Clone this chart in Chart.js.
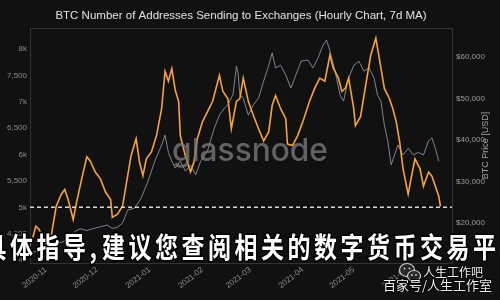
<!DOCTYPE html>
<html><head><meta charset="utf-8">
<script src="https://cdn.jsdelivr.net/npm/chart.js@4.4.1/dist/chart.umd.min.js"></script>
<style>html,body{margin:0;padding:0;background:#111;}#wrap{width:500px;height:300px;position:relative}</style>
</head><body><div id="wrap"><canvas id="c" width="500" height="300"></canvas></div>
<script>
const titleText = 'BTC Number of Addresses Sending to Exchanges (Hourly Chart, 7d MA)';
const rightAxisTitle = 'BTC Price [USD]';
const xRange = ['2020-10-22T14:00', '2021-06-27T19:00'];
const monthTicks = ['2020-11-01','2020-12-01','2021-01-01','2021-02-01','2021-03-01','2021-04-01','2021-05-01','2021-06-01'];
const monthLabels = ['2020-11','2020-12','2021-01','2021-02','2021-03','2021-04','2021-05','2021-06'];
const leftTicks = [4000,4500,5000,5500,6000,6500,7000,7500,8000];
const leftRange = [3945, 8400];
const rightTicks = [20000,30000,40000,50000,60000];
const rightRange = [10360, 67000];
const thresholdValue = 5000;

const addrDates = ['2020-10-22','2020-10-24','2020-10-26','2020-10-28','2020-10-30','2020-11-02','2020-11-04','2020-11-07','2020-11-10','2020-11-12','2020-11-14','2020-11-17','2020-11-19','2020-11-22','2020-11-25','2020-11-27','2020-11-30','2020-12-03','2020-12-06','2020-12-09','2020-12-10','2020-12-13','2020-12-16','2020-12-19','2020-12-21','2020-12-24','2020-12-26','2020-12-28','2020-12-30','2021-01-02','2021-01-05','2021-01-08','2021-01-10','2021-01-12','2021-01-14','2021-01-16','2021-01-18','2021-01-19','2021-01-22','2021-01-25','2021-01-27','2021-01-29','2021-02-01','2021-02-04','2021-02-07','2021-02-11','2021-02-13','2021-02-16','2021-02-18','2021-02-21','2021-02-23','2021-02-25','2021-02-28','2021-03-03','2021-03-06','2021-03-09','2021-03-12','2021-03-14','2021-03-16','2021-03-19','2021-03-22','2021-03-23','2021-03-26','2021-03-29','2021-04-01','2021-04-05','2021-04-08','2021-04-11','2021-04-14','2021-04-17','2021-04-19','2021-04-22','2021-04-24','2021-04-26','2021-04-28','2021-05-01','2021-05-02','2021-05-05','2021-05-08','2021-05-11','2021-05-14','2021-05-15','2021-05-17','2021-05-19','2021-05-22','2021-05-24','2021-05-26','2021-05-28','2021-05-30','2021-06-02','2021-06-04','2021-06-06','2021-06-09','2021-06-11','2021-06-14','2021-06-16','2021-06-18','2021-06-20','2021-06-21'];
const addrValues = [4250,4400,4640,4580,4390,4250,4450,5020,5250,5340,5150,4770,5100,5540,5960,5880,5670,5540,5290,5150,4810,4870,5020,5590,5975,6300,5860,5600,5920,6050,6360,6870,7580,7390,7630,7220,7010,6360,5975,5670,5860,6300,6620,6815,7010,7500,7200,7060,6490,7010,7060,7450,7010,6740,6490,6260,6430,6930,7120,6870,6680,6200,6170,6360,6620,7010,7255,7450,7390,7885,7640,7450,7200,7255,7450,6870,6550,6720,7310,7885,8210,8020,7640,7255,7060,6870,6620,6240,5730,5250,5590,5920,5730,5400,5670,5590,5400,5210,5020];

const priceDates = ['2020-10-22','2020-10-26','2020-10-30','2020-11-03','2020-11-06','2020-11-10','2020-11-14','2020-11-18','2020-11-21','2020-11-25','2020-11-30','2020-12-03','2020-12-07','2020-12-10','2020-12-13','2020-12-16','2020-12-19','2020-12-23','2020-12-27','2020-12-31','2021-01-04','2021-01-08','2021-01-10','2021-01-12','2021-01-14','2021-01-16','2021-01-19','2021-01-22','2021-01-25','2021-01-28','2021-01-31','2021-02-04','2021-02-08','2021-02-11','2021-02-14','2021-02-16','2021-02-19','2021-02-21','2021-02-22','2021-02-23','2021-02-25','2021-02-28','2021-03-03','2021-03-06','2021-03-09','2021-03-12','2021-03-14','2021-03-16','2021-03-19','2021-03-22','2021-03-25','2021-03-28','2021-03-31','2021-04-04','2021-04-07','2021-04-10','2021-04-13','2021-04-15','2021-04-17','2021-04-20','2021-04-23','2021-04-25','2021-04-28','2021-05-01','2021-05-04','2021-05-07','2021-05-10','2021-05-13','2021-05-15','2021-05-17','2021-05-19','2021-05-21','2021-05-23','2021-05-25','2021-05-27','2021-05-30','2021-06-02','2021-06-05','2021-06-08','2021-06-11','2021-06-14','2021-06-16','2021-06-18','2021-06-20'];
const priceValues = [12900,13100,13500,14000,15500,15300,16000,18000,18600,18200,18800,19100,19500,18700,18950,20000,23100,23600,26000,30100,34900,38800,41200,37000,34900,33250,34900,32500,34000,31600,34900,37400,42900,46000,47700,48500,51000,57800,56000,51000,50100,46000,48500,50100,54200,58000,61000,57400,58000,55700,52500,55700,59000,59300,57400,59800,62900,64100,61500,56600,50800,49400,54900,58000,59000,56600,57400,54900,50800,49400,43600,39800,34000,36400,38800,36400,38000,36400,37000,36400,39800,40500,38000,34900];

const watermarkText = 'glassnode';
const overlayText = '具体指导,建议您查阅相关的数字货币交易平台';
const stampTop = '人生工作吧';
const stampBottom = '百家号/人生工作室';

const DAY = 86400000;
const toDay = s => Date.parse((s.length === 10 ? s + 'T00:00' : s) + ':00Z') / DAY;
const xMin = toDay(xRange[0]), xMax = toDay(xRange[1]);
const AX_FONT = '"Liberation Sans", Arial, sans-serif';

const deco = {
  id: 'deco',
  beforeDraw(chart) {
    const {ctx, width, height} = chart;
    ctx.save(); ctx.fillStyle = '#111111'; ctx.fillRect(0, 0, width, height); ctx.restore();
  },
  afterDatasetsDraw(chart) {
    const {ctx, chartArea: a} = chart;
    ctx.save();
    ctx.font = '500 40px Inter, sans-serif';
    const w = ctx.measureText(watermarkText).width;
    const size = 40 * 156 / w;
    ctx.font = `500 ${size}px Inter, sans-serif`;
    ctx.fillStyle = 'rgba(120,120,120,0.8)';
    ctx.textAlign = 'center'; ctx.textBaseline = 'alphabetic';
    ctx.fillText(watermarkText, (a.left + a.right) / 2 + 9, 161);
    ctx.restore();
  },
  afterDraw(chart) {
    const {ctx, chartArea: a} = chart;
    ctx.save();
    // top frame line
    ctx.strokeStyle = '#333'; ctx.lineWidth = 1;
    ctx.beginPath(); ctx.moveTo(a.left, a.top + 0.5); ctx.lineTo(a.right, a.top + 0.5); ctx.stroke();
    // title
    ctx.font = `12px ${AX_FONT}`;
    const tw = ctx.measureText(titleText).width;
    const ts = 12 * 372 / tw;
    ctx.font = `${ts}px ${AX_FONT}`;
    ctx.fillStyle = '#e2e2e2'; ctx.textAlign = 'center'; ctx.textBaseline = 'middle';
    ctx.fillText(titleText, (a.left + a.right) / 2, 16);
    // right axis title
    ctx.save();
    ctx.translate(486, (a.top + a.bottom) / 2);
    ctx.rotate(-Math.PI / 2);
    ctx.font = `9px ${AX_FONT}`; ctx.fillStyle = '#a0a0a0';
    ctx.fillText(rightAxisTitle, 0, 0);
    ctx.restore();
    // overlay chinese text
    ctx.save();
    ctx.font = 'bold 23px "Noto Sans CJK SC", sans-serif';
    ctx.textAlign = 'left'; ctx.textBaseline = 'middle';
    ctx.translate(0, 247.5); ctx.scale(1, 1.25);
    let x = -16.5;
    for (const ch of overlayText) {
      ctx.lineWidth = 2.5; ctx.strokeStyle = '#000';
      ctx.strokeText(ch, x, 0);
      ctx.fillStyle = '#ffffff';
      ctx.fillText(ch, x, 0);
      x += (ch === ',') ? 12.5 : 26.5;
    }
    ctx.restore();
    // wechat-like icon
    ctx.save();
    ctx.strokeStyle = '#d0d0d0'; ctx.fillStyle = 'rgba(40,40,40,0.9)'; ctx.lineWidth = 1.2;
    ctx.beginPath(); ctx.ellipse(407, 270, 7.5, 6.5, 0, 0, Math.PI * 2); ctx.fill(); ctx.stroke();
    ctx.beginPath(); ctx.ellipse(414, 276, 6.5, 5.5, 0, 0, Math.PI * 2); ctx.fill(); ctx.stroke();
    ctx.fillStyle = '#d0d0d0';
    [[404.5,268.5],[409.5,268.5],[412,275],[416,275]].forEach(p => { ctx.beginPath(); ctx.arc(p[0], p[1], 0.9, 0, Math.PI * 2); ctx.fill(); });
    ctx.restore();
    // stamps
    ctx.font = '12px "Noto Sans CJK SC", sans-serif';
    ctx.textAlign = 'left'; ctx.textBaseline = 'middle';
    ctx.lineWidth = 2; ctx.strokeStyle = 'rgba(0,0,0,0.8)'; ctx.fillStyle = '#f0f0f0';
    ctx.strokeText(stampTop, 423, 272); ctx.fillText(stampTop, 423, 272);
    ctx.font = '13px "Noto Sans CJK SC", sans-serif';
    ctx.strokeText(stampBottom, 383, 285); ctx.fillText(stampBottom, 383, 285);
    ctx.restore();
  }
};

const addrData = addrDates.map((d, i) => ({x: toDay(d), y: addrValues[i]}));
const priceData = priceDates.map((d, i) => ({x: toDay(d), y: priceValues[i]}));
const thresholdData = [{x: xMin, y: thresholdValue}, {x: xMax, y: thresholdValue}];

new Chart(document.getElementById('c'), {
  type: 'line',
  data: {
    datasets: [
      {data: thresholdData, yAxisID: 'y', borderColor: 'rgba(225,225,225,0.95)', borderWidth: 1.5, borderDash: [4, 3], pointRadius: 0, order: 0},
      {data: addrData, yAxisID: 'y', borderColor: '#f5a33a', borderWidth: 1.6, pointRadius: 0, tension: 0, order: 1},
      {data: priceData, yAxisID: 'y1', borderColor: 'rgba(150,150,160,0.85)', borderWidth: 1, pointRadius: 0, tension: 0, order: 2}
    ]
  },
  options: {
    responsive: false, animation: false,
    layout: {padding: {top: 28, left: 0, right: 0, bottom: 0}},
    plugins: {legend: {display: false}, tooltip: {enabled: false}, title: {display: false}},
    scales: {
      x: {
        type: 'linear', min: xMin, max: xMax,
        afterBuildTicks: s => { s.ticks = monthTicks.map(m => ({value: toDay(m)})); },
        afterFit: s => { s.height = 37; },
        ticks: {autoSkip: false, maxRotation: 38, minRotation: 38, color: '#8c8c8c', font: {size: 8, family: AX_FONT}, padding: 2,
          callback: (v, i) => monthLabels[i]},
        grid: {display: false, drawTicks: false},
        border: {display: true, color: '#333'}
      },
      y: {
        position: 'left', min: leftRange[0], max: leftRange[1],
        afterBuildTicks: s => { s.ticks = leftTicks.map(v => ({value: v})); },
        afterFit: s => { s.width = 30; },
        ticks: {color: '#8c8c8c', font: {size: 8, family: AX_FONT}, padding: 3,
          callback: v => (v % 1000 === 0 ? (v / 1000) + 'k' : v.toLocaleString('en-US'))},
        grid: {display: false, drawTicks: false},
        border: {display: true, color: '#333'}
      },
      y1: {
        position: 'right', min: rightRange[0], max: rightRange[1],
        afterBuildTicks: s => { s.ticks = rightTicks.map(v => ({value: v})); },
        afterFit: s => { s.width = 48; },
        ticks: {color: '#9a9a9a', font: {size: 8, family: AX_FONT}, padding: 4,
          callback: v => '$' + v.toLocaleString('en-US')},
        grid: {display: false, drawTicks: false},
        border: {display: true, color: '#333'}
      }
    }
  },
  plugins: [deco]
});
</script></body></html>
